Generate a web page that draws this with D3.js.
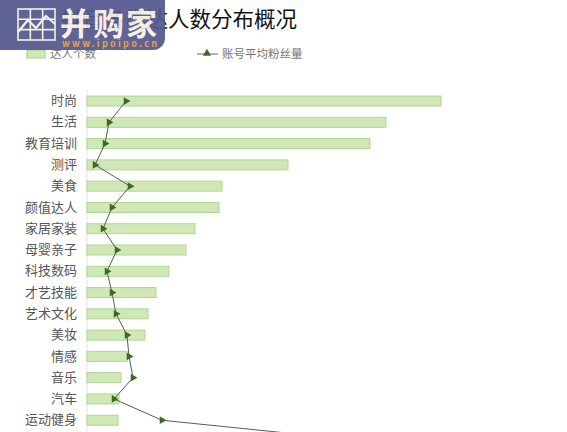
<!DOCTYPE html>
<html><head><meta charset="utf-8">
<script src="https://cdn.jsdelivr.net/npm/d3@7"></script>
<style>body{margin:0;background:#fff;}svg{display:block;font-family:"Noto Sans CJK SC","Noto Sans",sans-serif;}</style>
</head><body><svg id="c" width="567" height="432"></svg>
<script>
const categories = ["时尚","生活","教育培训","测评","美食","颜值达人","家居家装","母婴亲子","科技数码","才艺技能","艺术文化","美妆","情感","音乐","汽车","运动健身","萌宠"];
const talentCounts = [354,299,283,201,135,132,108,99,82,69,61,58,40,34,32,31,26];
const avgFans = [39,22,18,8,43,25,16,30,20,25,29,40,42,46,27,75,283];
const titleText = "抖音各类达人数分布概况";
const legendLabels = ["达人个数","账号平均粉丝量"];

const svg = d3.select("#c");
const y = d3.scaleBand().domain(categories).range([90.4, 90.4+17*21.28]).paddingInner(0.53).paddingOuter(0.265);
const x = d3.scaleLinear().domain([0,400]).range([87,487]);
const x2 = d3.scaleLinear().domain([0,300]).range([87,387]);

// title
svg.append("text").attr("x",297).attr("y",27).attr("text-anchor","end")
  .attr("font-size",21.5).attr("fill","#111").text(titleText);

// legend
svg.append("rect").attr("x",27).attr("y",50).attr("width",18).attr("height",8)
  .attr("fill","#cfe8b6").attr("stroke","#a8d08c");
svg.append("text").attr("x",50).attr("y",58).attr("font-size",11.5).attr("fill","#777").text(legendLabels[0]);
svg.append("line").attr("x1",197).attr("x2",218).attr("y1",54).attr("y2",54).attr("stroke","#666").attr("stroke-width",1);
svg.append("path").attr("d",d3.symbol(d3.symbolTriangle,28)()).attr("transform","translate(207,53.5)").attr("fill","#3d6b22");
svg.append("text").attr("x",222).attr("y",58).attr("font-size",11.5).attr("fill","#777").text(legendLabels[1]);

// axis line
svg.append("line").attr("x1",87).attr("x2",87).attr("y1",90).attr("y2",432).attr("stroke","#e2e2e2");

// bars
svg.selectAll("rect.bar").data(categories).enter().append("rect").attr("class","bar")
  .attr("x",x(0)).attr("y",d=>y(d)).attr("height",y.bandwidth())
  .attr("width",(d,i)=>x(talentCounts[i])-x(0))
  .attr("fill","#cfe8b6").attr("stroke","#b0d596").attr("stroke-width",1);

// category axis labels (last category lies below the visible area)
const visibleCats = categories.slice(0, categories.length-1);
const yAxis = d3.axisLeft(y).tickValues(visibleCats).tickSize(0).tickPadding(10);
const gy = svg.append("g").attr("transform","translate(87,0)").call(yAxis);
gy.select(".domain").remove();
gy.selectAll("text").attr("font-size",13).attr("fill","#555").attr("font-family","'Noto Sans CJK SC',sans-serif");

// line
const cy = d=>y(d)+y.bandwidth()/2;
const line = d3.line().x((d,i)=>x2(avgFans[i])).y(d=>cy(d));
svg.append("path").datum(categories).attr("d",line).attr("fill","none").attr("stroke","#5a5a5a").attr("stroke-width",1);
svg.selectAll("path.mk").data(categories).enter().append("path").attr("class","mk")
  .attr("d",d3.symbol(d3.symbolTriangle,26)())
  .attr("transform",(d,i)=>`translate(${x2(avgFans[i])},${cy(d)}) rotate(90)`)
  .attr("fill","#3d6b22");

// watermark
const wm = svg.append("g").attr("opacity",0.93);
wm.append("rect").attr("x",-12).attr("y",-12).attr("width",177).attr("height",62).attr("rx",12).attr("fill","#55588d");
const ig = wm.append("g").attr("stroke","#f3efe3").attr("fill","none").attr("stroke-width",1.6);
ig.append("rect").attr("x",18).attr("y",9).attr("width",37).attr("height",31);
[18+37/3,18+74/3].forEach(v=>ig.append("line").attr("x1",v).attr("x2",v).attr("y1",9).attr("y2",40));
[19.3,29.6].forEach(v=>ig.append("line").attr("x1",18).attr("x2",55).attr("y1",v).attr("y2",v));
ig.append("polyline").attr("points","18,32 28,20 36,28 46,16 55,24").attr("stroke-width",2.2);
wm.append("text").attr("x",60).attr("y",35).attr("font-size",31).attr("font-weight","bold").attr("fill","#f6f1e2")
  .attr("textLength",97).text("并购家");
wm.append("text").attr("x",62).attr("y",47).attr("font-size",9).attr("font-weight","bold").attr("fill","#e79a3c")
  .attr("textLength",95).text("www.ipoipo.cn");
</script></body></html>
